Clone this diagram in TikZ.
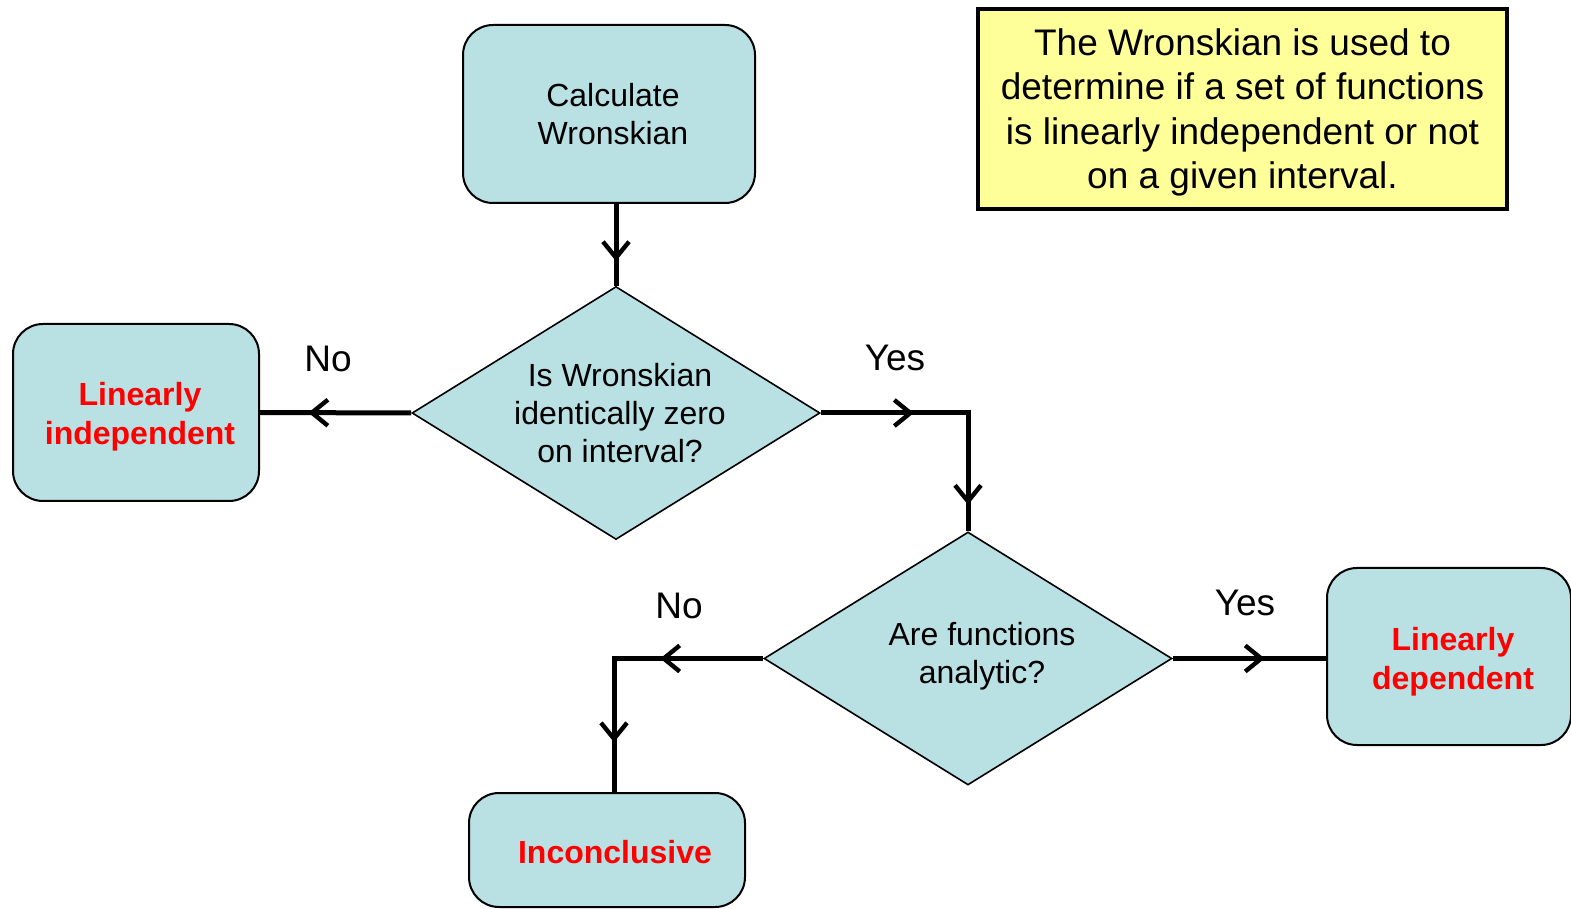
\documentclass[tikz,border=0pt]{standalone}
\usepackage{fontspec}
\setmainfont{Liberation Sans}
\usetikzlibrary{shapes.geometric,arrows.meta,decorations.markings}
\definecolor{boxfill}{RGB}{185,224,227}
\definecolor{notefill}{RGB}{255,255,153}
\newcommand\mylines[3]{\raisebox{#2}[\height][\depth]{\hspace*{#1}\begin{tabular}{@{}c@{}}#3\end{tabular}}}
\begin{document}
\begin{tikzpicture}[x=0.5pt,y=-0.5pt,
 box/.style={draw=black,line width=1pt,fill=boxfill,rounded corners=15pt,inner sep=0pt,align=center,font=\fontsize{16}{19}\selectfont},
 decision/.style={draw=black,line width=0.8pt,fill=boxfill,diamond,aspect=1.6,inner sep=0pt,align=center,font=\fontsize{16}{19}\selectfont},
 result/.style={box,text=red,font=\fontsize{16}{19.5}\selectfont\bfseries},
 conn/.style={line width=2.5pt},
 tipat/.style={postaction={decorate,decoration={markings,mark=at position #1 with {\arrow{Straight Barb[length=8pt,width=13pt,line width=2.2pt]}}}}},
 lbl/.style={font=\fontsize{18.5}{21}\selectfont}]
\useasboundingbox (0,0) rectangle (1571,909);
\clip (0,0) rectangle (1571,909);
\node[box,minimum width=146pt,minimum height=89pt] (calc) at (609,114) {\mylines{4pt}{-2pt}{Calculate\\Wronskian}};
\node[decision,minimum width=204pt,minimum height=126.5pt] (d1) at (616,413) {\mylines{4pt}{-2pt}{Is Wronskian\\identically zero\\on interval?}};
\node[result,minimum width=123pt,minimum height=88.5pt] (li) at (136,412.5) {\mylines{4pt}{-2.25pt}{Linearly\\independent}};
\node[decision,minimum width=204pt,minimum height=126.5pt] (d2) at (968,658.5) {\mylines{14pt}{0.75pt}{Are functions\\analytic?}};
\node[result,minimum width=122pt,minimum height=88.5pt] (ld) at (1449,656.5) {\mylines{4pt}{-3pt}{Linearly\\dependent}};
\node[result,minimum width=138pt,minimum height=57pt] (inc) at (607,850) {\mylines{8pt}{-3pt}{Inconclusive}};
\node[draw=black,line width=1.6pt,fill=notefill,minimum width=264.5pt,minimum height=100pt,inner sep=0pt,align=center,font=\fontsize{18.5}{22.3}\selectfont] (note) at (1242.5,109) {\mylines{0pt}{-2pt}{The Wronskian is used to\\determine if a set of functions\\is linearly independent or not\\on a given interval.}};
\coordinate (c1) at (d1.east -| d2.north);
\coordinate (c2) at (614,0 |- d2.west);
\draw[conn,tipat=0.7] (d1.north |- calc.south) -- (d1.north);
\draw[conn,tipat=0.68] (d1.west) -- (li.east);
\draw[conn,tipat=46.5pt,tipat=119.5pt] (d1.east) -- (c1) -- (d2.north);
\draw[conn,tipat=51.5pt,tipat=116.5pt] (d2.west) -- (c2) -- (c2 |- inc.north);
\draw[conn,tipat=0.6] (d2.east) -- (d2.east -| ld.west);
\node[lbl] (no1) at (328,359) {No};
\node[lbl] (yes1) at (895,358) {Yes};
\node[lbl] (no2) at (679,606) {No};
\node[lbl] (yes2) at (1245,603) {Yes};
\end{tikzpicture}
\end{document}
